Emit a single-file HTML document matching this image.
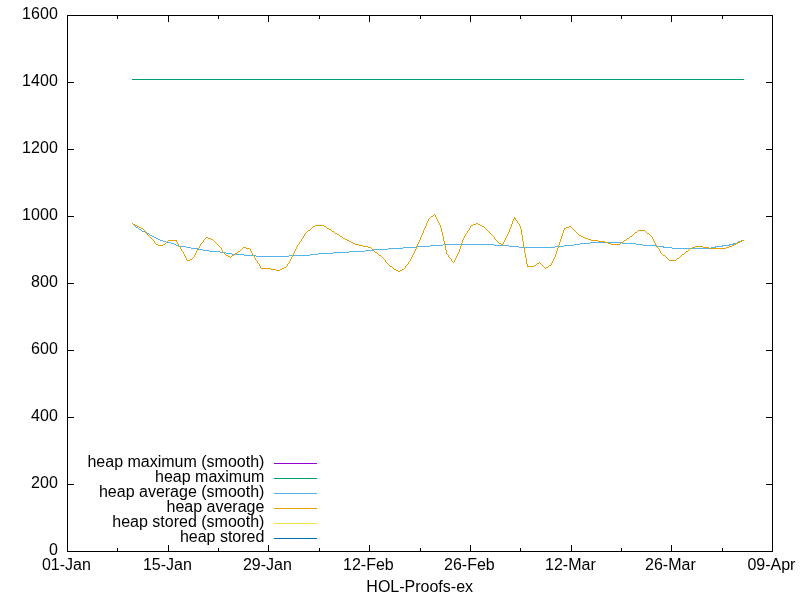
<!DOCTYPE html>
<html><head><meta charset="utf-8"><title>HOL-Proofs-ex</title>
<style>
html,body{margin:0;padding:0;background:#fff;overflow:hidden;}
svg{display:block;}
text{font-family:"Liberation Sans",Arial,sans-serif;font-size:16px;fill:#000;}
.yl text{text-anchor:end;letter-spacing:0.12px;}
.xl text{text-anchor:middle;}
.lg text{text-anchor:end;}
</style></head>
<body>
<svg width="800" height="600" viewBox="0 0 800 600">
<rect width="800" height="600" fill="#fff"/>
<g fill="none" stroke-width="1" shape-rendering="crispEdges">
<rect x="132" y="79" width="612" height="1" fill="#009e73"/>
<path d="M132 223.5h1M133 224.5h1M134 225.5h1M135 226.5h1M136 227.5h2M138 228.5h1M139 229.5h2M141 230.5h1M142 231.5h3M145 232.5h2M147 233.5h2M149 234.5h1M150 235.5h2M152 236.5h2M154 237.5h2M156 238.5h2M158 239.5h2M160 240.5h3M741 240.5h3M163 241.5h3M738 241.5h3M166 242.5h5M590 242.5h32M737 242.5h1M171 243.5h3M580 243.5h10M622 243.5h14M733 243.5h4M174 244.5h2M443 244.5h51M574 244.5h6M636 244.5h7M729 244.5h5M176 245.5h2M430 245.5h13M494 245.5h15M564 245.5h10M643 245.5h13M722 245.5h8M178 246.5h8M417 246.5h13M509 246.5h10M555 246.5h9M656 246.5h8M715 246.5h8M186 247.5h5M403 247.5h14M519 247.5h36M663 247.5h9M711 247.5h5M191 248.5h7M388 248.5h15M672 248.5h39M198 249.5h5M373 249.5h15M203 250.5h6M365 250.5h8M209 251.5h11M349 251.5h16M220 252.5h6M333 252.5h16M226 253.5h6M318 253.5h15M232 254.5h12M310 254.5h8M244 255.5h12M289 255.5h21M256 256.5h33" stroke="#56b4e9"/>
<path d="M434 214.5h1M433 215.5h1M435 215.5h1M431 216.5h2M435 216.5h1M430 217.5h1M436 217.5h1M514 217.5h1M429 218.5h1M436 218.5h1M514 218.5h2M428 219.5h1M437 219.5h1M513 219.5h1M515 219.5h1M428 220.5h1M437 220.5h1M513 220.5h1M516 220.5h1M427 221.5h1M438 221.5h1M512 221.5h1M517 221.5h1M427 222.5h1M438 222.5h1M512 222.5h1M517 222.5h1M132 223.5h1M426 223.5h1M439 223.5h1M476 223.5h2M512 223.5h1M518 223.5h1M133 224.5h2M426 224.5h1M439 224.5h1M473 224.5h3M478 224.5h2M511 224.5h1M519 224.5h1M135 225.5h2M315 225.5h9M426 225.5h1M440 225.5h1M471 225.5h2M480 225.5h2M511 225.5h1M519 225.5h1M137 226.5h2M313 226.5h2M324 226.5h2M425 226.5h1M440 226.5h1M470 226.5h1M482 226.5h2M511 226.5h1M520 226.5h1M569 226.5h2M139 227.5h2M312 227.5h1M326 227.5h1M425 227.5h1M440 227.5h1M470 227.5h1M484 227.5h1M510 227.5h1M520 227.5h1M566 227.5h3M571 227.5h1M141 228.5h2M311 228.5h1M327 228.5h2M424 228.5h1M441 228.5h1M469 228.5h1M485 228.5h1M510 228.5h1M520 228.5h1M564 228.5h2M572 228.5h1M143 229.5h1M310 229.5h1M329 229.5h2M424 229.5h1M441 229.5h1M469 229.5h1M486 229.5h1M509 229.5h1M521 229.5h1M564 229.5h1M573 229.5h1M144 230.5h1M308 230.5h2M331 230.5h1M423 230.5h1M441 230.5h1M468 230.5h1M487 230.5h1M509 230.5h1M521 230.5h1M563 230.5h1M574 230.5h1M638 230.5h7M145 231.5h1M307 231.5h1M332 231.5h2M423 231.5h1M441 231.5h1M467 231.5h1M488 231.5h1M509 231.5h1M521 231.5h1M563 231.5h1M575 231.5h1M637 231.5h1M645 231.5h1M145 232.5h1M306 232.5h1M334 232.5h1M423 232.5h1M442 232.5h1M467 232.5h1M489 232.5h1M508 232.5h1M521 232.5h1M563 232.5h1M576 232.5h1M635 232.5h2M646 232.5h1M146 233.5h1M305 233.5h1M335 233.5h2M422 233.5h1M442 233.5h1M466 233.5h1M490 233.5h1M508 233.5h1M521 233.5h1M562 233.5h1M577 233.5h1M634 233.5h1M647 233.5h2M147 234.5h1M304 234.5h1M337 234.5h2M422 234.5h1M442 234.5h1M465 234.5h1M491 234.5h1M507 234.5h1M521 234.5h1M562 234.5h1M578 234.5h1M633 234.5h1M649 234.5h1M148 235.5h1M304 235.5h1M339 235.5h1M421 235.5h1M442 235.5h1M465 235.5h1M492 235.5h1M507 235.5h1M522 235.5h1M562 235.5h1M579 235.5h2M632 235.5h1M650 235.5h1M149 236.5h1M303 236.5h1M340 236.5h2M421 236.5h1M443 236.5h1M464 236.5h1M493 236.5h1M506 236.5h1M522 236.5h1M561 236.5h1M581 236.5h2M630 236.5h2M651 236.5h1M150 237.5h1M206 237.5h2M303 237.5h1M342 237.5h1M420 237.5h1M443 237.5h1M464 237.5h1M494 237.5h1M506 237.5h1M522 237.5h1M561 237.5h1M583 237.5h2M629 237.5h1M652 237.5h1M151 238.5h1M205 238.5h1M208 238.5h3M302 238.5h1M343 238.5h2M420 238.5h1M443 238.5h1M463 238.5h1M494 238.5h1M505 238.5h1M522 238.5h1M561 238.5h1M585 238.5h3M627 238.5h2M652 238.5h1M152 239.5h1M204 239.5h1M211 239.5h2M301 239.5h1M345 239.5h2M420 239.5h1M443 239.5h1M463 239.5h1M495 239.5h1M505 239.5h1M522 239.5h1M560 239.5h1M588 239.5h3M626 239.5h1M653 239.5h1M153 240.5h1M168 240.5h9M203 240.5h1M213 240.5h1M301 240.5h1M347 240.5h2M419 240.5h1M443 240.5h1M462 240.5h1M496 240.5h1M504 240.5h1M522 240.5h1M560 240.5h1M591 240.5h7M624 240.5h2M653 240.5h1M742 240.5h2M154 241.5h1M167 241.5h1M176 241.5h1M203 241.5h1M214 241.5h1M300 241.5h1M349 241.5h2M419 241.5h1M444 241.5h1M462 241.5h1M497 241.5h1M504 241.5h1M523 241.5h1M560 241.5h1M598 241.5h7M623 241.5h1M654 241.5h1M740 241.5h2M154 242.5h1M166 242.5h1M177 242.5h1M202 242.5h1M215 242.5h1M299 242.5h1M351 242.5h2M418 242.5h1M444 242.5h1M462 242.5h1M498 242.5h1M503 242.5h1M523 242.5h1M559 242.5h1M605 242.5h3M621 242.5h2M654 242.5h1M738 242.5h2M155 243.5h1M165 243.5h1M177 243.5h1M201 243.5h1M216 243.5h1M299 243.5h1M353 243.5h2M418 243.5h1M444 243.5h1M461 243.5h1M499 243.5h2M503 243.5h1M523 243.5h1M559 243.5h1M608 243.5h3M620 243.5h1M655 243.5h1M736 243.5h2M156 244.5h2M163 244.5h2M178 244.5h1M200 244.5h1M217 244.5h1M298 244.5h1M355 244.5h4M417 244.5h1M444 244.5h1M461 244.5h1M501 244.5h2M523 244.5h1M559 244.5h1M611 244.5h9M655 244.5h1M734 244.5h2M158 245.5h5M178 245.5h1M200 245.5h1M218 245.5h1M297 245.5h1M359 245.5h4M417 245.5h1M445 245.5h1M461 245.5h1M502 245.5h1M523 245.5h1M558 245.5h1M656 245.5h1M732 245.5h2M179 246.5h1M199 246.5h1M219 246.5h1M297 246.5h1M363 246.5h5M416 246.5h1M445 246.5h1M460 246.5h1M523 246.5h1M558 246.5h1M657 246.5h1M695 246.5h8M729 246.5h3M180 247.5h1M199 247.5h1M220 247.5h1M243 247.5h3M296 247.5h1M368 247.5h3M416 247.5h1M445 247.5h1M460 247.5h1M524 247.5h1M558 247.5h1M657 247.5h1M692 247.5h3M703 247.5h6M726 247.5h3M180 248.5h1M198 248.5h1M221 248.5h1M242 248.5h1M246 248.5h4M296 248.5h1M371 248.5h1M416 248.5h1M445 248.5h1M460 248.5h1M524 248.5h1M557 248.5h1M658 248.5h1M690 248.5h2M709 248.5h17M181 249.5h1M197 249.5h1M221 249.5h1M241 249.5h1M250 249.5h1M295 249.5h1M372 249.5h1M415 249.5h1M445 249.5h1M459 249.5h1M524 249.5h1M557 249.5h1M659 249.5h1M689 249.5h1M181 250.5h1M197 250.5h1M222 250.5h1M240 250.5h1M250 250.5h1M295 250.5h1M373 250.5h1M415 250.5h1M446 250.5h1M459 250.5h1M524 250.5h1M557 250.5h1M659 250.5h1M688 250.5h1M182 251.5h1M196 251.5h1M222 251.5h1M238 251.5h2M251 251.5h1M294 251.5h1M374 251.5h1M414 251.5h1M446 251.5h1M459 251.5h1M524 251.5h1M556 251.5h1M660 251.5h1M686 251.5h2M183 252.5h1M196 252.5h1M223 252.5h1M237 252.5h1M251 252.5h1M294 252.5h1M375 252.5h2M414 252.5h1M446 252.5h1M458 252.5h1M524 252.5h1M556 252.5h1M660 252.5h1M685 252.5h1M183 253.5h1M195 253.5h1M224 253.5h1M235 253.5h2M252 253.5h1M293 253.5h1M377 253.5h1M413 253.5h1M446 253.5h1M458 253.5h1M525 253.5h1M556 253.5h1M661 253.5h1M684 253.5h1M184 254.5h1M195 254.5h1M225 254.5h1M234 254.5h1M252 254.5h1M293 254.5h1M378 254.5h1M413 254.5h1M447 254.5h1M457 254.5h1M525 254.5h1M555 254.5h1M662 254.5h1M682 254.5h2M184 255.5h1M194 255.5h1M226 255.5h2M232 255.5h2M253 255.5h1M292 255.5h1M379 255.5h2M412 255.5h1M448 255.5h1M457 255.5h1M525 255.5h1M555 255.5h1M663 255.5h2M681 255.5h1M185 256.5h1M194 256.5h1M228 256.5h2M231 256.5h1M254 256.5h1M292 256.5h1M381 256.5h1M412 256.5h1M448 256.5h1M456 256.5h1M525 256.5h1M555 256.5h1M665 256.5h1M680 256.5h1M185 257.5h1M193 257.5h1M230 257.5h1M254 257.5h1M291 257.5h1M382 257.5h1M411 257.5h1M449 257.5h1M456 257.5h1M525 257.5h1M554 257.5h1M666 257.5h1M679 257.5h1M186 258.5h1M192 258.5h1M255 258.5h1M291 258.5h1M383 258.5h1M411 258.5h1M450 258.5h1M455 258.5h1M526 258.5h1M554 258.5h1M667 258.5h1M677 258.5h2M186 259.5h1M190 259.5h2M255 259.5h1M290 259.5h1M384 259.5h1M410 259.5h1M451 259.5h1M455 259.5h1M526 259.5h1M553 259.5h1M668 259.5h1M676 259.5h1M187 260.5h3M256 260.5h1M290 260.5h1M385 260.5h1M410 260.5h1M451 260.5h1M454 260.5h1M526 260.5h1M553 260.5h1M669 260.5h7M257 261.5h1M289 261.5h1M385 261.5h1M409 261.5h1M452 261.5h1M454 261.5h1M526 261.5h1M552 261.5h1M257 262.5h1M289 262.5h1M386 262.5h1M408 262.5h1M453 262.5h1M526 262.5h1M539 262.5h1M552 262.5h1M258 263.5h1M288 263.5h1M387 263.5h1M408 263.5h1M526 263.5h1M537 263.5h2M540 263.5h1M551 263.5h1M259 264.5h1M287 264.5h1M388 264.5h1M407 264.5h1M527 264.5h1M536 264.5h1M541 264.5h1M551 264.5h1M259 265.5h1M287 265.5h1M389 265.5h1M406 265.5h1M527 265.5h1M534 265.5h2M542 265.5h1M549 265.5h2M260 266.5h1M286 266.5h1M390 266.5h2M405 266.5h1M527 266.5h7M543 266.5h1M548 266.5h1M260 267.5h1M284 267.5h2M392 267.5h1M405 267.5h1M544 267.5h1M546 267.5h2M261 268.5h10M282 268.5h2M393 268.5h1M404 268.5h1M545 268.5h1M271 269.5h5M280 269.5h2M394 269.5h2M402 269.5h2M276 270.5h4M396 270.5h2M400 270.5h2M398 271.5h2" stroke="#e69f00"/>
</g>
<g fill="#000" shape-rendering="crispEdges">
<rect x="67" y="82" width="7" height="1"/><rect x="766" y="82" width="7" height="1"/><rect x="67" y="149" width="7" height="1"/><rect x="766" y="149" width="7" height="1"/><rect x="67" y="216" width="7" height="1"/><rect x="766" y="216" width="7" height="1"/><rect x="67" y="283" width="7" height="1"/><rect x="766" y="283" width="7" height="1"/><rect x="67" y="350" width="7" height="1"/><rect x="766" y="350" width="7" height="1"/><rect x="67" y="417" width="7" height="1"/><rect x="766" y="417" width="7" height="1"/><rect x="67" y="484" width="7" height="1"/><rect x="766" y="484" width="7" height="1"/><rect x="117" y="548" width="1" height="4"/><rect x="117" y="15" width="1" height="4"/><rect x="168" y="545" width="1" height="7"/><rect x="168" y="15" width="1" height="7"/><rect x="218" y="548" width="1" height="4"/><rect x="218" y="15" width="1" height="4"/><rect x="268" y="545" width="1" height="7"/><rect x="268" y="15" width="1" height="7"/><rect x="319" y="548" width="1" height="4"/><rect x="319" y="15" width="1" height="4"/><rect x="369" y="545" width="1" height="7"/><rect x="369" y="15" width="1" height="7"/><rect x="420" y="548" width="1" height="4"/><rect x="420" y="15" width="1" height="4"/><rect x="470" y="545" width="1" height="7"/><rect x="470" y="15" width="1" height="7"/><rect x="520" y="548" width="1" height="4"/><rect x="520" y="15" width="1" height="4"/><rect x="571" y="545" width="1" height="7"/><rect x="571" y="15" width="1" height="7"/><rect x="621" y="548" width="1" height="4"/><rect x="621" y="15" width="1" height="4"/><rect x="671" y="545" width="1" height="7"/><rect x="671" y="15" width="1" height="7"/><rect x="722" y="548" width="1" height="4"/><rect x="722" y="15" width="1" height="4"/><rect x="67" y="15" width="706" height="1"/><rect x="67" y="551" width="706" height="1"/><rect x="67" y="15" width="1" height="537"/><rect x="772" y="15" width="1" height="537"/>
</g>
<g class="yl">
<text x="58.1" y="19">1600</text><text x="58.1" y="86">1400</text><text x="58.1" y="153">1200</text><text x="58.1" y="220">1000</text><text x="58.1" y="287">800</text><text x="58.1" y="354">600</text><text x="58.1" y="421">400</text><text x="58.1" y="488">200</text><text x="58.1" y="555">0</text>
</g>
<g class="xl">
<text x="66.4" y="570">01-Jan</text><text x="167.4" y="570">15-Jan</text><text x="267.4" y="570">29-Jan</text><text x="368.4" y="570">12-Feb</text><text x="469.4" y="570">26-Feb</text><text x="570.4" y="570">12-Mar</text><text x="670.4" y="570">26-Mar</text><text x="771.4" y="570">09-Apr</text>
<text x="419.7" y="591.8">HOL-Proofs-ex</text>
</g>
<g class="lg">
<text x="264.4" y="467">heap maximum (smooth)</text><text x="264.4" y="482">heap maximum</text><text x="264.4" y="497">heap average (smooth)</text><text x="264.4" y="512">heap average</text><text x="264.4" y="527">heap stored (smooth)</text><text x="264.4" y="542">heap stored</text>
</g>
<g shape-rendering="crispEdges">
<rect x="274" y="463" width="43" height="1" fill="#9400d3"/><rect x="274" y="478" width="43" height="1" fill="#009e73"/><rect x="274" y="493" width="43" height="1" fill="#56b4e9"/><rect x="274" y="508" width="43" height="1" fill="#e69f00"/><rect x="274" y="523" width="43" height="1" fill="#f0e442"/><rect x="274" y="538" width="43" height="1" fill="#0072b2"/>
</g>
</svg>
</body></html>
